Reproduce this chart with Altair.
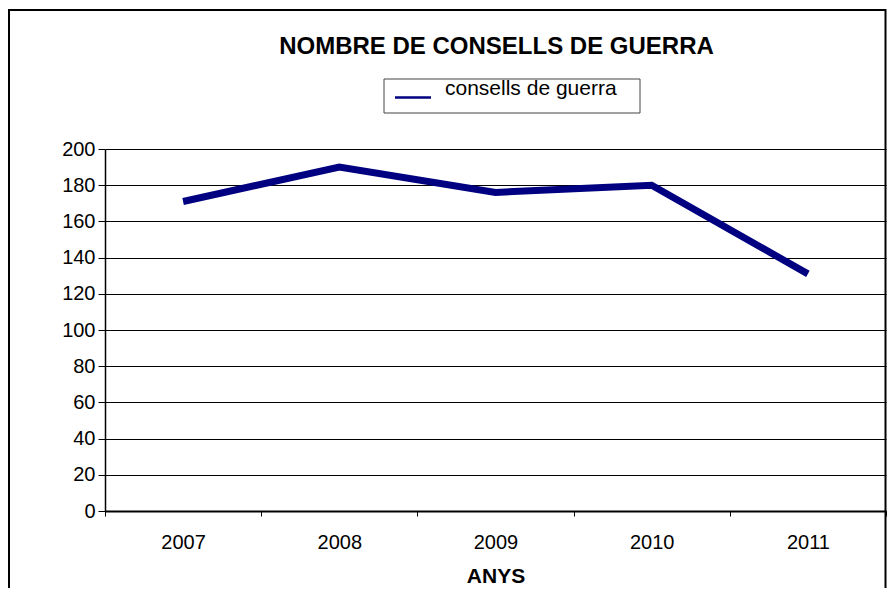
import altair as alt
import pandas as pd

# ---- data ----
years = ["2007", "2008", "2009", "2010", "2011"]
consells = [171, 190, 176, 180, 131]
series_name = "consells de guerra"
chart_title = "NOMBRE DE CONSELLS DE GUERRA"
x_title = "ANYS"
y_ticks = [0, 20, 40, 60, 80, 100, 120, 140, 160, 180, 200]

FONT = "Liberation Sans"
NAVY = "#000080"
W, H = 781, 362

df = pd.DataFrame({"any": years, "valor": consells, "serie": [series_name] * len(years)})

x_enc = alt.X(
    "any:N",
    sort=years,
    title=x_title,
    scale=alt.Scale(type="band", paddingInner=0, paddingOuter=0),
    bandPosition=0.5,
    axis=alt.Axis(
        labelAngle=0, tickBand="extent", grid=False, domainColor="black",
        domainWidth=2, tickColor="black", tickSize=5, tickWidth=1,
        labelFont=FONT, labelFontSize=20, labelColor="black",
        labelBaseline="alphabetic", labelPadding=32,
        titleFont=FONT, titleFontSize=21, titleFontWeight="bold",
        titleColor="black", titleBaseline="alphabetic", titleY=71,
    ),
)
y_enc = alt.Y(
    "valor:Q",
    title=None,
    scale=alt.Scale(domain=[0, 200], nice=False),
    axis=alt.Axis(
        values=y_ticks, grid=True, gridColor="black", gridWidth=1,
        domainColor="black", domainWidth=1.5, tickColor="black",
        tickSize=7, labelFont=FONT, labelFontSize=20, labelColor="black",
        labelPadding=3,
    ),
)

line = alt.Chart(df).mark_line(color=NAVY, strokeWidth=7, strokeJoin="miter").encode(
    x=x_enc, y=y_enc
)

one = pd.DataFrame({"t": [chart_title], "s": [series_name]})

title_mark = alt.Chart(one).mark_text(
    font=FONT, fontSize=24, fontWeight="bold", color="black",
    align="center", baseline="alphabetic",
).encode(x=alt.value(391.5), y=alt.value(-95), text="t:N")

legend_box = alt.Chart(one).mark_rect(
    fill="white", stroke="#444444", strokeWidth=1
).encode(x=alt.value(279), x2=alt.value(535), y=alt.value(-70), y2=alt.value(-36))

legend_sym = alt.Chart(one).mark_rule(color=NAVY, strokeWidth=2.5).encode(
    x=alt.value(290), x2=alt.value(326), y=alt.value(-51.5)
)

legend_txt = alt.Chart(one).mark_text(
    font=FONT, fontSize=21, color="black", align="left", baseline="alphabetic"
).encode(x=alt.value(340), y=alt.value(-54), text="s:N")

frame = alt.Chart(one).mark_rect(
    fill=None, fillOpacity=0, stroke="black", strokeWidth=2
).encode(x=alt.value(-96), x2=alt.value(780.5), y=alt.value(-139), y2=alt.value(620))

chart = alt.layer(
    frame, line, title_mark, legend_box, legend_sym, legend_txt
).properties(
    width=W, height=H,
    autosize=alt.AutoSizeParams(type="none"),
    padding={"left": 97, "top": 141, "right": 1, "bottom": 77},
    background="white",
).configure_view(stroke=None)

chart.save("out.html", embed_options={"renderer": "svg", "actions": False})
